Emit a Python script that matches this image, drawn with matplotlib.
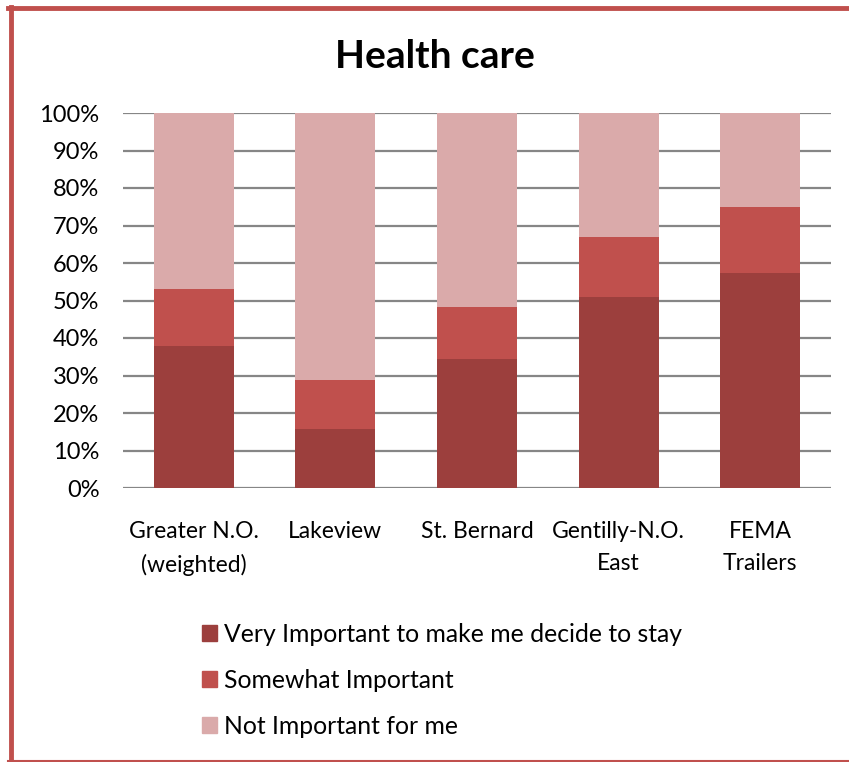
import numpy as np
import matplotlib
matplotlib.use("Agg")
import matplotlib.pyplot as plt
from matplotlib.lines import Line2D

plt.rcParams['font.family'] = ['Lato', 'DejaVu Sans']

categories = ["Greater N.O.\n(weighted)", "Lakeview", "St. Bernard", "Gentilly-N.O.\nEast", "FEMA\nTrailers"]
very_important = [38.0, 15.7, 34.5, 50.9, 57.4]
somewhat_important = [15.0, 13.1, 13.8, 16.0, 17.5]
not_important = [47.0, 71.2, 51.7, 33.1, 25.1]
series_names = ["Very Important to make me decide to stay", "Somewhat Important", "Not Important for me"]
colors = ["#9C3F3D", "#C0504D", "#DAAAAA"]

W, H = 849, 762
fig = plt.figure(figsize=(W / 100, H / 100), dpi=100)
ax = fig.add_axes([123 / W, 1 - 488 / H, (831 - 123) / W, (488 - 113) / H])

x = np.arange(len(categories))
bottom = np.zeros(len(categories))
for vals, name, col in zip([very_important, somewhat_important, not_important], series_names, colors):
    ax.bar(x, vals, bottom=bottom, width=0.565, color=col, label=name, zorder=3)
    bottom += np.array(vals)

ax.set_xlim(-0.5, len(categories) - 0.5)
ax.set_ylim(0, 100)
ax.set_yticks(range(0, 101, 10))
ax.set_yticklabels(["{}%".format(v) for v in range(0, 101, 10)])
ax.set_xticks(x)
ax.set_xticklabels(categories, linespacing=1.65)
ax.yaxis.grid(True, color="#868686", linewidth=1.6, zorder=0)
for s in ax.spines.values():
    s.set_visible(False)
ax.tick_params(axis="both", length=0, colors="black")
ax.tick_params(axis="y", pad=17, labelsize=17)
ax.tick_params(axis="x", pad=24, labelsize=16.5)

fig.text(435 / W, 1 - 56 / H, "Health care", ha="center", va="center", fontsize=28, fontweight="bold")

handles = [plt.Rectangle((0, 0), 1, 1, color=c) for c in colors]
fig.legend(handles, series_names, loc="upper left", bbox_to_anchor=(192 / W, 1 - 613 / H),
           frameon=False, fontsize=17.8, handlelength=0.6, handleheight=0.6,
           handletextpad=0.3, labelspacing=0.93, borderaxespad=0)

# red frame around the chart
red = "#C0504D"
fig.add_artist(Line2D([10.5 / W, 10.5 / W], [0, 1 - 7 / H], color=red, linewidth=3.5, transform=fig.transFigure))
fig.add_artist(Line2D([8 / W, 1], [1 - 7.5 / H, 1 - 7.5 / H], color=red, linewidth=3.5, transform=fig.transFigure))
fig.add_artist(Line2D([8 / W, 1], [1 - 761 / H, 1 - 761 / H], color=red, linewidth=1.5, transform=fig.transFigure))

fig.savefig("out.png", dpi=100)
